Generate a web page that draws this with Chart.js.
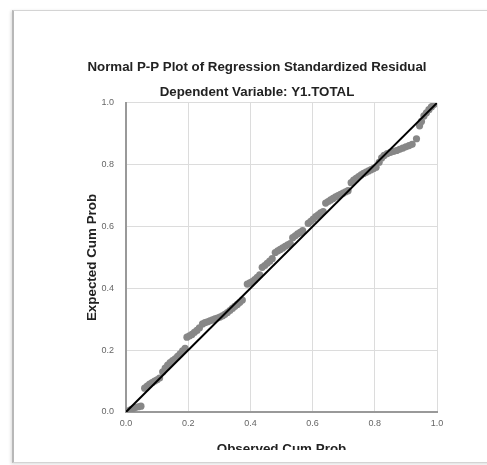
<!DOCTYPE html>
<html>
<head>
<meta charset="UTF-8">
<title>Normal P-P Plot</title>
<script src="https://cdn.jsdelivr.net/npm/chart.js@4.4.0/dist/chart.umd.min.js"></script>
<style>
body { margin: 0; background: #fff; overflow: hidden; }
#frame { position: absolute; left: 12px; top: 10px; width: 520px; height: 451px; border: 1px solid #d4d4d4; border-left: 2px solid #b8b8b8; box-shadow: -1px 1px 3px rgba(0,0,0,0.15); }
#wrap { position: absolute; left: 0; top: 0; width: 487px; height: 450px; overflow: hidden; }
</style>
</head>
<body>
<div id="frame"></div>
<div id="wrap"><canvas id="myChart" width="487" height="465"></canvas></div>
<script>
// observed vs expected cumulative probability
var obsCum = [0.008, 0.016, 0.024, 0.032, 0.040, 0.048,
  0.060, 0.068, 0.076, 0.084, 0.092, 0.100, 0.108,
  0.118, 0.126, 0.134, 0.142, 0.150, 0.158, 0.166, 0.174, 0.182, 0.190,
  0.196, 0.204, 0.212, 0.220, 0.228, 0.236,
  0.246, 0.254, 0.262, 0.270, 0.278, 0.286, 0.294,
  0.302, 0.310, 0.318, 0.326, 0.334, 0.342, 0.350, 0.358, 0.366, 0.374,
  0.390, 0.398, 0.406, 0.414, 0.422, 0.430,
  0.438, 0.446, 0.454, 0.462, 0.470,
  0.480, 0.488, 0.496, 0.504, 0.512, 0.520, 0.528,
  0.536, 0.544, 0.552, 0.560, 0.568,
  0.586, 0.594, 0.602, 0.610, 0.618, 0.626,
  0.634, 0.642, 0.650, 0.658, 0.666, 0.674, 0.682, 0.690, 0.698, 0.706, 0.714,
  0.724, 0.732, 0.740, 0.748, 0.756, 0.764, 0.772, 0.780, 0.788, 0.796, 0.804,
  0.814, 0.822, 0.830, 0.840, 0.850, 0.860, 0.870, 0.880, 0.890, 0.900, 0.910, 0.920,
  0.934, 0.944, 0.950,
  0.958, 0.966, 0.974, 0.982, 0.990];
var expCum = [0.004, 0.008, 0.012, 0.015, 0.017, 0.019,
  0.077, 0.084, 0.090, 0.095, 0.100, 0.104, 0.110,
  0.130, 0.142, 0.152, 0.160, 0.166, 0.172, 0.180, 0.188, 0.198, 0.206,
  0.242, 0.246, 0.251, 0.258, 0.264, 0.272,
  0.285, 0.289, 0.292, 0.295, 0.298, 0.301, 0.304,
  0.307, 0.311, 0.316, 0.322, 0.328, 0.335, 0.342, 0.348, 0.355, 0.362,
  0.414, 0.418, 0.422, 0.428, 0.436, 0.444,
  0.468, 0.474, 0.481, 0.488, 0.496,
  0.516, 0.521, 0.526, 0.531, 0.536, 0.541, 0.545,
  0.564, 0.570, 0.576, 0.581, 0.587,
  0.610, 0.617, 0.624, 0.632, 0.638, 0.644,
  0.648, 0.676, 0.681, 0.686, 0.691, 0.696, 0.700, 0.704, 0.708, 0.712, 0.716,
  0.742, 0.750, 0.756, 0.762, 0.767, 0.772, 0.776, 0.780, 0.784, 0.788, 0.792,
  0.808, 0.822, 0.830, 0.836, 0.840, 0.843, 0.846, 0.850, 0.854, 0.858, 0.862, 0.866,
  0.884, 0.926, 0.940,
  0.958, 0.968, 0.978, 0.987, 0.995];
var diagX = [0, 1];
var diagY = [0, 1];
var tickLabels = ['0.0', '0.2', '0.4', '0.6', '0.8', '1.0'];

var FONT = "Arial, 'Liberation Sans', sans-serif";

var points = obsCum.map(function(x, i) { return {x: x, y: expCum[i]}; });
var diag = diagX.map(function(x, i) { return {x: x, y: diagY[i]}; });

var ctx = document.getElementById('myChart').getContext('2d');
var chart = new Chart(ctx, {
    type: 'scatter',
    data: {
        datasets: [{
            data: diag,
            showLine: true,
            borderColor: '#000',
            borderWidth: 2,
            pointRadius: 0,
            order: 0
        }, {
            data: points,
            backgroundColor: 'rgb(135,135,135)',
            borderWidth: 0,
            pointRadius: 3.6,
            order: 1
        }]
    },
    options: {
        responsive: false,
        animation: false,
        layout: { padding: { left: 77, right: 50, top: 59, bottom: 0 } },
        plugins: {
            legend: { display: false },
            tooltip: { enabled: false },
            title: {
                display: true,
                text: 'Normal P-P Plot of Regression Standardized Residual',
                color: '#222',
                font: { family: FONT, size: 13.3, weight: 'bold' },
                padding: { top: 0, bottom: 4 }
            },
            subtitle: {
                display: true,
                text: 'Dependent Variable: Y1.TOTAL',
                color: '#222',
                font: { family: FONT, size: 13.3, weight: 'bold' },
                padding: { top: 5, bottom: 3 }
            }
        },
        scales: {
            x: {
                type: 'linear', min: 0, max: 1,
                ticks: {
                    stepSize: 0.2, color: '#666', padding: 6,
                    font: { family: FONT, size: 9 },
                    callback: function(v, i) { return tickLabels[i]; }
                },
                grid: { color: '#dcdcdc', drawTicks: false },
                border: { color: '#999', width: 2 },
                title: {
                    display: true, text: 'Observed Cum Prob', color: '#222',
                    font: { family: FONT, size: 13.4, weight: 'bold' },
                    padding: { top: 4, bottom: 8 }
                },
                afterFit: function(s) { s.height = 53; }
            },
            y: {
                type: 'linear', min: 0, max: 1,
                ticks: {
                    stepSize: 0.2, color: '#666', padding: 12,
                    font: { family: FONT, size: 9 },
                    callback: function(v, i) { return tickLabels[i]; }
                },
                grid: { color: '#dcdcdc', drawTicks: false },
                border: { color: '#999', width: 2 },
                title: {
                    display: true, text: 'Expected Cum Prob', color: '#222',
                    font: { family: FONT, size: 13.4, weight: 'bold' },
                    padding: { top: 7, bottom: 4 }
                },
                afterFit: function(s) { s.width = 49; }
            }
        }
    }
});
</script>
</body>
</html>
